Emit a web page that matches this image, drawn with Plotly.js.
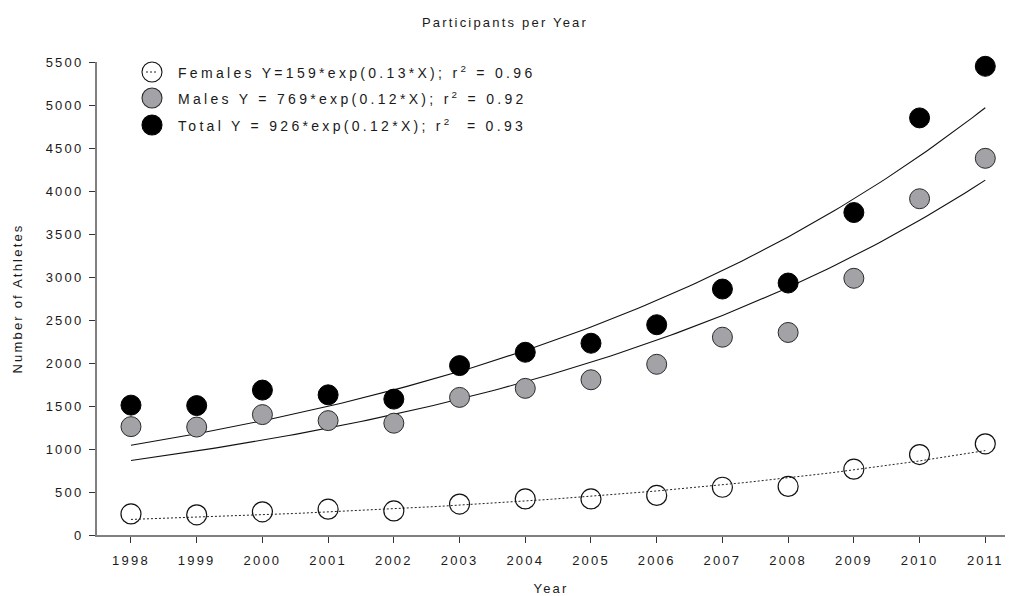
<!DOCTYPE html>
<html>
<head>
<meta charset="utf-8">
<script src="https://cdn.plot.ly/plotly-3.0.1.min.js"></script>
<style>
  html, body { margin: 0; padding: 0; background: #fff; }
  #chart { width: 1010px; height: 596px; }
  /* wide character spacing used throughout the figure (also applies to Plotly's text measurer) */
  svg text { letter-spacing: 2.2px; }
  svg text.annotation-text { letter-spacing: 3.3px; }
</style>
</head>
<body>
<div id="chart"></div>
<script>
// Yearly participant counts
const years = [1998, 1999, 2000, 2001, 2002, 2003, 2004, 2005, 2006, 2007, 2008, 2009, 2010, 2011];
const females = [245, 235, 270, 300, 280, 360, 420, 420, 460, 555, 565, 765, 935, 1060];
const males = [1260, 1255, 1400, 1330, 1300, 1600, 1705, 1805, 1985, 2300, 2355, 2985, 3910, 4380];
const totals = [1510, 1505, 1685, 1630, 1580, 1970, 2125, 2230, 2445, 2860, 2930, 3750, 4850, 5450];

// Exponential fits Y = a*exp(b*X), X counted from 1997
const seriesNames = ['Females', 'Males', 'Total'];
const fitA = [159, 769, 926];
const fitB = [0.13, 0.12, 0.12];
const fitR2 = [0.96, 0.92, 0.93];
const fitOrigin = 1997;
const legendLabels = [
  'Females Y=159*exp(0.13*X); r<sup>2</sup> = 0.96',
  'Males Y = 769*exp(0.12*X); r<sup>2</sup> = 0.92',
  'Total Y = 926*exp(0.12*X); r<sup>2</sup>  = 0.93'
];

const yTicks = [0, 500, 1000, 1500, 2000, 2500, 3000, 3500, 4000, 4500, 5000, 5500];

const FONT = '"Liberation Sans", Arial, Helvetica, sans-serif';
const INK = '#1a1a1a';

function fitCurve(i) {
  const xs = [], ys = [];
  const first = years[0], last = years[years.length - 1];
  for (let k = 0; k <= 130; k++) {
    const x = first + (last - first) * k / 130;
    xs.push(x);
    ys.push(fitA[i] * Math.exp(fitB[i] * (x - fitOrigin)));
  }
  return { xs, ys };
}

const lineStyles = [
  { color: '#222', width: 1, dash: '2px,2px' },
  { color: '#111', width: 1.1, dash: 'solid' },
  { color: '#111', width: 1.1, dash: 'solid' }
];

const traces = [];
for (let i = 0; i < 3; i++) {
  const c = fitCurve(i);
  traces.push({
    x: c.xs, y: c.ys, type: 'scatter', mode: 'lines',
    line: lineStyles[i], hoverinfo: 'skip', showlegend: false,
    name: seriesNames[i] + ' fit'
  });
}

const markerStyles = [
  { symbol: 'circle-open', size: 20, color: '#111', line: { color: '#111', width: 1.2 } },
  { symbol: 'circle', size: 20, color: '#a2a2a7', line: { color: '#2a2a2a', width: 1 } },
  { symbol: 'circle', size: 20, color: '#000', line: { color: '#000', width: 1 } }
];
const seriesValues = [females, males, totals];
for (let i = 0; i < 3; i++) {
  traces.push({
    x: years, y: seriesValues[i], type: 'scatter', mode: 'markers',
    marker: markerStyles[i], name: seriesNames[i], showlegend: false,
    cliponaxis: false
  });
}

// Key drawn in the upper-left corner of the plot
const plotL = 97, plotR = 1005, plotT = 62, plotB = 535;
const px2x = p => (p - plotL) / (plotR - plotL);
const py2y = p => (plotB - p) / (plotB - plotT);
const keyRows = [72, 98, 125];
const keyX = 152, keyTextX = 176;

const shapes = [];
const annotations = [];
const keyFill = ['rgba(0,0,0,0)', '#a2a2a7', '#000'];
const keyLine = ['#111', '#2a2a2a', '#000'];
for (let i = 0; i < 3; i++) {
  shapes.push({
    type: 'circle', xref: 'paper', yref: 'paper',
    xsizemode: 'pixel', ysizemode: 'pixel',
    xanchor: px2x(keyX), yanchor: py2y(keyRows[i]),
    x0: -10, x1: 10, y0: -10, y1: 10,
    fillcolor: keyFill[i], line: { color: keyLine[i], width: 1.1 }
  });
  annotations.push({
    xref: 'paper', yref: 'paper', x: px2x(keyTextX), y: py2y(keyRows[i]),
    xanchor: 'left', yanchor: 'middle', showarrow: false,
    text: legendLabels[i],
    font: { family: FONT, size: 14, color: INK }
  });
}
// dotted stroke inside the open key symbol
shapes.push({
  type: 'line', xref: 'paper', yref: 'paper',
  xsizemode: 'pixel', ysizemode: 'pixel',
  xanchor: px2x(keyX), yanchor: py2y(keyRows[0]),
  x0: -6, x1: 6, y0: 0, y1: 0,
  line: { color: '#222', width: 1, dash: '2px,2px' }
});

const layout = {
  width: 1010, height: 596,
  paper_bgcolor: '#fff', plot_bgcolor: '#fff',
  margin: { l: plotL, r: 1010 - plotR, t: plotT, b: 596 - plotB, pad: 0 },
  font: { family: FONT, size: 13, color: INK },
  title: {
    text: 'Participants per Year',
    x: 0.5, xref: 'container', xanchor: 'center',
    y: 1 - 22 / 596, yref: 'container', yanchor: 'middle',
    font: { family: FONT, size: 13, color: INK }
  },
  xaxis: {
    range: [1997.483, 2011.30],
    tickvals: years, ticktext: years.map(String),
    ticks: 'outside', ticklen: 6, tickwidth: 1, tickcolor: '#333',
    showline: true, linecolor: '#808080', linewidth: 2,
    showgrid: false, zeroline: false,
    tickfont: { family: FONT, size: 13, color: INK },
    ticklabelstandoff: 6,
    title: { text: 'Year', standoff: 18, font: { family: FONT, size: 13, color: INK } }
  },
  yaxis: {
    range: [0, 5500],
    tickvals: yTicks, ticktext: yTicks.map(String),
    ticks: 'outside', ticklen: 6, tickwidth: 1, tickcolor: '#333',
    showline: true, linecolor: '#808080', linewidth: 2,
    showgrid: false, zeroline: false,
    tickfont: { family: FONT, size: 13, color: INK },
    ticklabelstandoff: 3,
    title: { text: 'Number of Athletes', standoff: 20, font: { family: FONT, size: 13, color: INK } }
  },
  shapes: shapes,
  annotations: annotations,
  showlegend: false
};

Plotly.newPlot('chart', traces, layout, { displayModeBar: false, staticPlot: true });
</script>
</body>
</html>
